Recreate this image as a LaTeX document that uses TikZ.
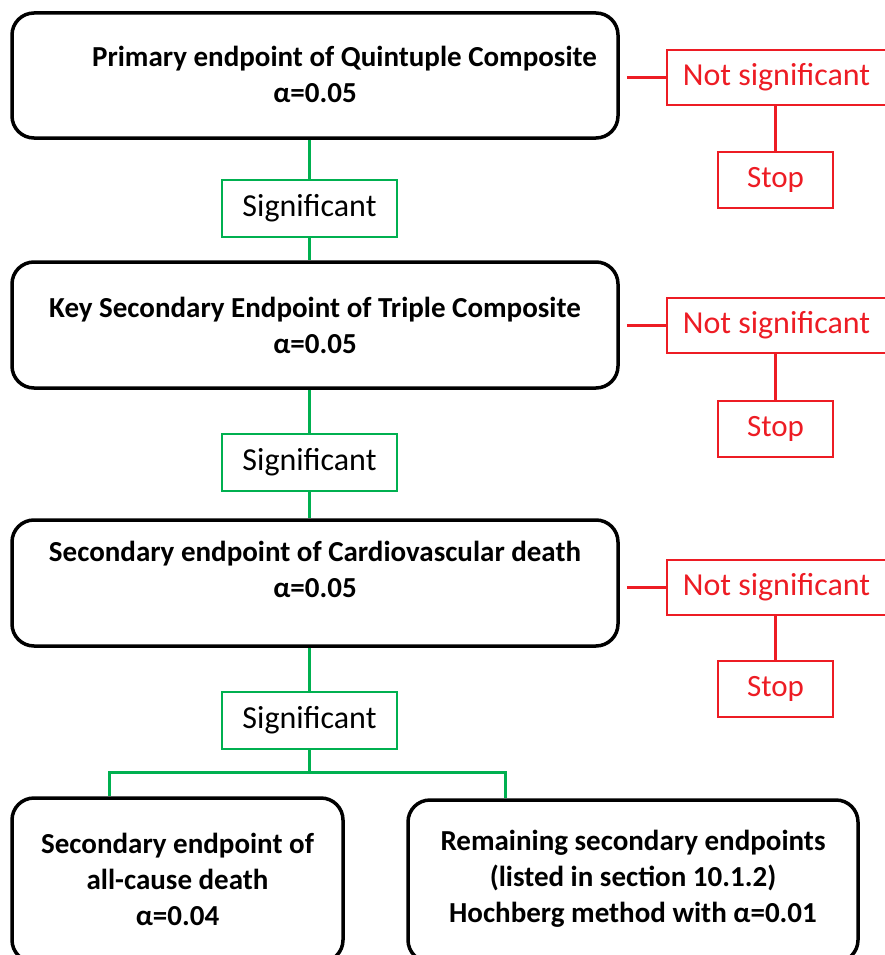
\documentclass[tikz,border=0pt]{standalone}
\usepackage{fontspec}
\setmainfont{Carlito}
\usepackage{xcolor}
\definecolor{sgreen}{RGB}{0,176,80}
\definecolor{sred}{RGB}{237,28,36}

\begin{document}
\begin{tikzpicture}[x=1pt,y=-1pt,
   bigbox/.style={draw=black,line width=3.5pt,rounded corners=22pt,minimum width=606pt,inner sep=0pt},
   boxtext/.style={align=center,font=\fontsize{29}{36}\selectfont\bfseries,inner sep=0pt},
   sigbox/.style={draw=sgreen,line width=2pt,minimum width=175pt,minimum height=57pt,inner sep=0pt,
      font=\fontsize{32}{36}\selectfont},
   nsbox/.style={draw=sred,line width=2pt,minimum width=223pt,minimum height=55pt,inner sep=0pt,
      font=\fontsize{32}{36}\selectfont\color{sred}},
   stopbox/.style={draw=sred,line width=2pt,minimum width=115pt,minimum height=56pt,inner sep=0pt,
      font=\fontsize{31}{36}\selectfont\color{sred}},
   gline/.style={draw=sgreen,line width=3pt},
   rline/.style={draw=sred,line width=3pt}]
   \useasboundingbox (0,0) rectangle (885,955);
   % main boxes
   \node[bigbox,minimum height=125pt] (p1) at (315,75.5) {};
   \node[boxtext] (p1t) at (315,74.5) {\hspace*{59pt}Primary endpoint of Quintuple Composite\\ α=0.05};
   \node[bigbox,minimum height=126pt] (p2) at (315,325) {};
   \node[boxtext] (p2t) at (315,325) {Key Secondary Endpoint of Triple Composite\\ α=0.05};
   \node[bigbox,minimum height=126pt] (p3) at (315,583) {};
   \node[boxtext] (p3t) at (315,569.5) {Secondary endpoint of Cardiovascular death\\ α=0.05};
   \node[bigbox,minimum width=331pt,minimum height=164pt] (b4) at (177.5,880) {};
   \node[boxtext] (b4t) at (177.5,879) {Secondary endpoint of\\ all-cause death\\ α=0.04};
   \node[bigbox,minimum width=450pt,minimum height=162pt] (b5) at (633,881) {};
   \node[boxtext] (b5t) at (633,879) {Remaining secondary endpoints\\ (listed in section 10.1.2)\\ Hochberg method with α=0.01};
   % significant
   \node[sigbox] (s1) at (309.5,208.5) {Significant};
   \node[sigbox] (s2) at (309.5,462.5) {Significant};
   \node[sigbox] (s3) at (309.5,720.5) {Significant};
   % not significant
   \node[nsbox] (n1) at (778.5,77.5) {\hspace*{-4pt}Not significant};
   \node[stopbox] (t1) at (775.5,180) {Stop};
   \node[nsbox] (n2) at (778.5,325.5) {\hspace*{-4pt}Not significant};
   \node[stopbox] (t2) at (775.5,428.5) {Stop};
   \node[nsbox] (n3) at (778.5,587) {\hspace*{-4pt}Not significant};
   \node[stopbox] (t3) at (775.5,689) {Stop};
   % green path
   \draw[gline] (s1.north) -- (s1.north |- p1.south);
   \draw[gline] (s1.south) -- (s1.south |- p2.north);
   \draw[gline] (s2.north) -- (s2.north |- p2.south);
   \draw[gline] (s2.south) -- (s2.south |- p3.north);
   \draw[gline] (s3.north) -- (s3.north |- p3.south);
   \coordinate (split) at (309.5,772);
   \draw[gline] (s3.south) -- (split);
   \draw[gline] ([xshift=99pt]b4.north west) |- (split) -| ([xshift=99pt]b5.north west);
   % red path
   \foreach \i in {1,2,3}{
      \draw[rline] ([xshift=7pt]p\i.east |- n\i.west) -- (n\i.west);
      \draw[rline] (t\i.north |- n\i.south) -- (t\i.north);
   }
\end{tikzpicture}
\end{document}
